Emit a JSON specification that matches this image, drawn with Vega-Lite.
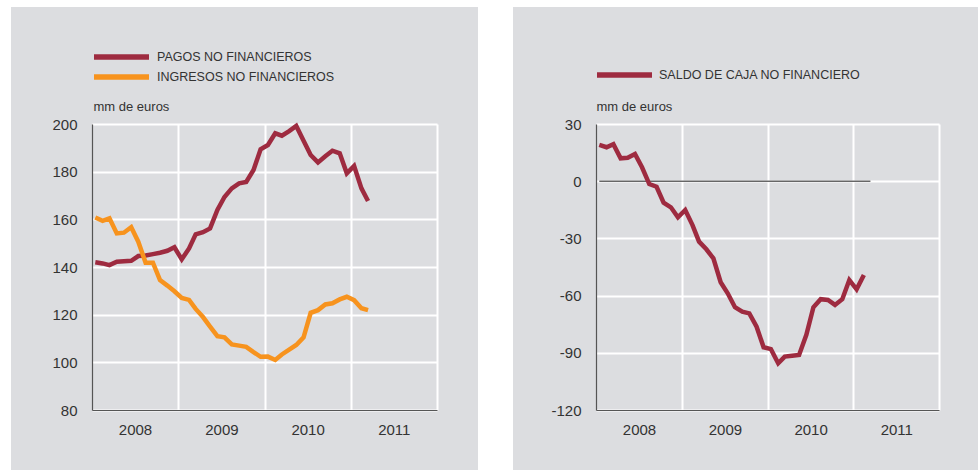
{
  "$schema": "https://vega.github.io/schema/vega-lite/v6.json",
  "background": "#ffffff",
  "padding": {"left": 11, "top": 7, "right": 0, "bottom": 0},
  "autosize": {"type": "pad"},
  "spacing": 35,
  "bounds": "flush",
  "config": {
    "view": {"fill": "#dcdde0", "stroke": null},
    "font": "Liberation Sans",
    "axis": {
      "ticks": false,
      "gridColor": "#ffffff",
      "gridWidth": 2,
      "domainColor": "#555555",
      "domainWidth": 1.2,
      "labelFontSize": 15,
      "labelColor": "#333333",
      "labelFont": "Liberation Sans",
      "titleFont": "Liberation Sans",
      "titleFontWeight": "normal",
      "titleColor": "#333333",
      "titleFontSize": 13
    },
    "legend": {
      "orient": "none",
      "title": null,
      "symbolType": "M-5,0H5",
      "symbolSize": 121,
      "symbolStrokeWidth": 5.5,
      "labelFontSize": 12.5,
      "labelColor": "#333333",
      "labelFont": "Liberation Sans",
      "labelLimit": 0,
      "rowPadding": -4,
      "padding": 0
    }
  },
  "resolve": {"scale": {"color": "independent"}, "legend": {"color": "independent"}},
  "datasets": {
    "flujos": [
      {"fecha": "2008-01-15", "serie": "PAGOS NO FINANCIEROS", "valor": 142.0},
      {"fecha": "2008-02-15", "serie": "PAGOS NO FINANCIEROS", "valor": 141.5},
      {"fecha": "2008-03-15", "serie": "PAGOS NO FINANCIEROS", "valor": 140.8},
      {"fecha": "2008-04-15", "serie": "PAGOS NO FINANCIEROS", "valor": 142.2},
      {"fecha": "2008-05-15", "serie": "PAGOS NO FINANCIEROS", "valor": 142.4},
      {"fecha": "2008-06-15", "serie": "PAGOS NO FINANCIEROS", "valor": 142.6},
      {"fecha": "2008-07-15", "serie": "PAGOS NO FINANCIEROS", "valor": 144.6},
      {"fecha": "2008-08-15", "serie": "PAGOS NO FINANCIEROS", "valor": 144.8},
      {"fecha": "2008-09-15", "serie": "PAGOS NO FINANCIEROS", "valor": 145.4},
      {"fecha": "2008-10-15", "serie": "PAGOS NO FINANCIEROS", "valor": 146.0},
      {"fecha": "2008-11-15", "serie": "PAGOS NO FINANCIEROS", "valor": 146.8},
      {"fecha": "2008-12-15", "serie": "PAGOS NO FINANCIEROS", "valor": 148.3},
      {"fecha": "2009-01-15", "serie": "PAGOS NO FINANCIEROS", "valor": 143.2},
      {"fecha": "2009-02-15", "serie": "PAGOS NO FINANCIEROS", "valor": 147.8},
      {"fecha": "2009-03-15", "serie": "PAGOS NO FINANCIEROS", "valor": 153.7},
      {"fecha": "2009-04-15", "serie": "PAGOS NO FINANCIEROS", "valor": 154.6},
      {"fecha": "2009-05-15", "serie": "PAGOS NO FINANCIEROS", "valor": 156.2},
      {"fecha": "2009-06-15", "serie": "PAGOS NO FINANCIEROS", "valor": 163.9},
      {"fecha": "2009-07-15", "serie": "PAGOS NO FINANCIEROS", "valor": 169.4},
      {"fecha": "2009-08-15", "serie": "PAGOS NO FINANCIEROS", "valor": 173.0},
      {"fecha": "2009-09-15", "serie": "PAGOS NO FINANCIEROS", "valor": 175.1},
      {"fecha": "2009-10-15", "serie": "PAGOS NO FINANCIEROS", "valor": 175.7},
      {"fecha": "2009-11-15", "serie": "PAGOS NO FINANCIEROS", "valor": 180.7},
      {"fecha": "2009-12-15", "serie": "PAGOS NO FINANCIEROS", "valor": 189.4},
      {"fecha": "2010-01-15", "serie": "PAGOS NO FINANCIEROS", "valor": 191.2},
      {"fecha": "2010-02-15", "serie": "PAGOS NO FINANCIEROS", "valor": 196.1},
      {"fecha": "2010-03-15", "serie": "PAGOS NO FINANCIEROS", "valor": 195.1},
      {"fecha": "2010-04-15", "serie": "PAGOS NO FINANCIEROS", "valor": 197.0},
      {"fecha": "2010-05-15", "serie": "PAGOS NO FINANCIEROS", "valor": 199.2},
      {"fecha": "2010-06-15", "serie": "PAGOS NO FINANCIEROS", "valor": 193.0},
      {"fecha": "2010-07-15", "serie": "PAGOS NO FINANCIEROS", "valor": 187.0},
      {"fecha": "2010-08-15", "serie": "PAGOS NO FINANCIEROS", "valor": 183.9},
      {"fecha": "2010-09-15", "serie": "PAGOS NO FINANCIEROS", "valor": 186.5},
      {"fecha": "2010-10-15", "serie": "PAGOS NO FINANCIEROS", "valor": 188.8},
      {"fecha": "2010-11-15", "serie": "PAGOS NO FINANCIEROS", "valor": 187.7},
      {"fecha": "2010-12-15", "serie": "PAGOS NO FINANCIEROS", "valor": 179.3},
      {"fecha": "2011-01-15", "serie": "PAGOS NO FINANCIEROS", "valor": 182.4},
      {"fecha": "2011-02-15", "serie": "PAGOS NO FINANCIEROS", "valor": 173.0},
      {"fecha": "2011-03-15", "serie": "PAGOS NO FINANCIEROS", "valor": 167.7},
      {"fecha": "2008-01-15", "serie": "INGRESOS NO FINANCIEROS", "valor": 160.8},
      {"fecha": "2008-02-15", "serie": "INGRESOS NO FINANCIEROS", "valor": 159.4},
      {"fecha": "2008-03-15", "serie": "INGRESOS NO FINANCIEROS", "valor": 160.4},
      {"fecha": "2008-04-15", "serie": "INGRESOS NO FINANCIEROS", "valor": 154.1},
      {"fecha": "2008-05-15", "serie": "INGRESOS NO FINANCIEROS", "valor": 154.4},
      {"fecha": "2008-06-15", "serie": "INGRESOS NO FINANCIEROS", "valor": 156.7},
      {"fecha": "2008-07-15", "serie": "INGRESOS NO FINANCIEROS", "valor": 150.6},
      {"fecha": "2008-08-15", "serie": "INGRESOS NO FINANCIEROS", "valor": 141.8},
      {"fecha": "2008-09-15", "serie": "INGRESOS NO FINANCIEROS", "valor": 141.8},
      {"fecha": "2008-10-15", "serie": "INGRESOS NO FINANCIEROS", "valor": 134.5},
      {"fecha": "2008-11-15", "serie": "INGRESOS NO FINANCIEROS", "valor": 132.2},
      {"fecha": "2008-12-15", "serie": "INGRESOS NO FINANCIEROS", "valor": 129.8},
      {"fecha": "2009-01-15", "serie": "INGRESOS NO FINANCIEROS", "valor": 127.0},
      {"fecha": "2009-02-15", "serie": "INGRESOS NO FINANCIEROS", "valor": 126.2},
      {"fecha": "2009-03-15", "serie": "INGRESOS NO FINANCIEROS", "valor": 122.4},
      {"fecha": "2009-04-15", "serie": "INGRESOS NO FINANCIEROS", "valor": 119.0},
      {"fecha": "2009-05-15", "serie": "INGRESOS NO FINANCIEROS", "valor": 115.0},
      {"fecha": "2009-06-15", "serie": "INGRESOS NO FINANCIEROS", "valor": 111.0},
      {"fecha": "2009-07-15", "serie": "INGRESOS NO FINANCIEROS", "valor": 110.5},
      {"fecha": "2009-08-15", "serie": "INGRESOS NO FINANCIEROS", "valor": 107.5},
      {"fecha": "2009-09-15", "serie": "INGRESOS NO FINANCIEROS", "valor": 107.0},
      {"fecha": "2009-10-15", "serie": "INGRESOS NO FINANCIEROS", "valor": 106.5},
      {"fecha": "2009-11-15", "serie": "INGRESOS NO FINANCIEROS", "valor": 104.3},
      {"fecha": "2009-12-15", "serie": "INGRESOS NO FINANCIEROS", "valor": 102.3},
      {"fecha": "2010-01-15", "serie": "INGRESOS NO FINANCIEROS", "valor": 102.4},
      {"fecha": "2010-02-15", "serie": "INGRESOS NO FINANCIEROS", "valor": 101.0},
      {"fecha": "2010-03-15", "serie": "INGRESOS NO FINANCIEROS", "valor": 103.3},
      {"fecha": "2010-04-15", "serie": "INGRESOS NO FINANCIEROS", "valor": 105.3},
      {"fecha": "2010-05-15", "serie": "INGRESOS NO FINANCIEROS", "valor": 107.3},
      {"fecha": "2010-06-15", "serie": "INGRESOS NO FINANCIEROS", "valor": 110.5},
      {"fecha": "2010-07-15", "serie": "INGRESOS NO FINANCIEROS", "valor": 120.8},
      {"fecha": "2010-08-15", "serie": "INGRESOS NO FINANCIEROS", "valor": 121.9},
      {"fecha": "2010-09-15", "serie": "INGRESOS NO FINANCIEROS", "valor": 124.3},
      {"fecha": "2010-10-15", "serie": "INGRESOS NO FINANCIEROS", "valor": 124.8},
      {"fecha": "2010-11-15", "serie": "INGRESOS NO FINANCIEROS", "valor": 126.4},
      {"fecha": "2010-12-15", "serie": "INGRESOS NO FINANCIEROS", "valor": 127.5},
      {"fecha": "2011-01-15", "serie": "INGRESOS NO FINANCIEROS", "valor": 126.1},
      {"fecha": "2011-02-15", "serie": "INGRESOS NO FINANCIEROS", "valor": 122.7},
      {"fecha": "2011-03-15", "serie": "INGRESOS NO FINANCIEROS", "valor": 121.9}
    ],
    "saldo": [
      {"fecha": "2008-01-15", "serie": "SALDO DE CAJA NO FINANCIERO", "valor": 19.0},
      {"fecha": "2008-02-15", "serie": "SALDO DE CAJA NO FINANCIERO", "valor": 17.8},
      {"fecha": "2008-03-15", "serie": "SALDO DE CAJA NO FINANCIERO", "valor": 19.4},
      {"fecha": "2008-04-15", "serie": "SALDO DE CAJA NO FINANCIERO", "valor": 12.0},
      {"fecha": "2008-05-15", "serie": "SALDO DE CAJA NO FINANCIERO", "valor": 12.3},
      {"fecha": "2008-06-15", "serie": "SALDO DE CAJA NO FINANCIERO", "valor": 14.3},
      {"fecha": "2008-07-15", "serie": "SALDO DE CAJA NO FINANCIERO", "valor": 7.3},
      {"fecha": "2008-08-15", "serie": "SALDO DE CAJA NO FINANCIERO", "valor": -1.5},
      {"fecha": "2008-09-15", "serie": "SALDO DE CAJA NO FINANCIERO", "valor": -2.9},
      {"fecha": "2008-10-15", "serie": "SALDO DE CAJA NO FINANCIERO", "valor": -11.3},
      {"fecha": "2008-11-15", "serie": "SALDO DE CAJA NO FINANCIERO", "valor": -13.7},
      {"fecha": "2008-12-15", "serie": "SALDO DE CAJA NO FINANCIERO", "valor": -18.9},
      {"fecha": "2009-01-15", "serie": "SALDO DE CAJA NO FINANCIERO", "valor": -15.1},
      {"fecha": "2009-02-15", "serie": "SALDO DE CAJA NO FINANCIERO", "valor": -23.0},
      {"fecha": "2009-03-15", "serie": "SALDO DE CAJA NO FINANCIERO", "valor": -31.7},
      {"fecha": "2009-04-15", "serie": "SALDO DE CAJA NO FINANCIERO", "valor": -35.7},
      {"fecha": "2009-05-15", "serie": "SALDO DE CAJA NO FINANCIERO", "valor": -40.5},
      {"fecha": "2009-06-15", "serie": "SALDO DE CAJA NO FINANCIERO", "valor": -53.0},
      {"fecha": "2009-07-15", "serie": "SALDO DE CAJA NO FINANCIERO", "valor": -58.8},
      {"fecha": "2009-08-15", "serie": "SALDO DE CAJA NO FINANCIERO", "valor": -66.1},
      {"fecha": "2009-09-15", "serie": "SALDO DE CAJA NO FINANCIERO", "valor": -68.4},
      {"fecha": "2009-10-15", "serie": "SALDO DE CAJA NO FINANCIERO", "valor": -69.3},
      {"fecha": "2009-11-15", "serie": "SALDO DE CAJA NO FINANCIERO", "valor": -76.3},
      {"fecha": "2009-12-15", "serie": "SALDO DE CAJA NO FINANCIERO", "valor": -87.1},
      {"fecha": "2010-01-15", "serie": "SALDO DE CAJA NO FINANCIERO", "valor": -88.1},
      {"fecha": "2010-02-15", "serie": "SALDO DE CAJA NO FINANCIERO", "valor": -95.5},
      {"fecha": "2010-03-15", "serie": "SALDO DE CAJA NO FINANCIERO", "valor": -92.0},
      {"fecha": "2010-04-15", "serie": "SALDO DE CAJA NO FINANCIERO", "valor": -91.5},
      {"fecha": "2010-05-15", "serie": "SALDO DE CAJA NO FINANCIERO", "valor": -91.1},
      {"fecha": "2010-06-15", "serie": "SALDO DE CAJA NO FINANCIERO", "valor": -80.6},
      {"fecha": "2010-07-15", "serie": "SALDO DE CAJA NO FINANCIERO", "valor": -66.1},
      {"fecha": "2010-08-15", "serie": "SALDO DE CAJA NO FINANCIERO", "valor": -61.9},
      {"fecha": "2010-09-15", "serie": "SALDO DE CAJA NO FINANCIERO", "valor": -62.3},
      {"fecha": "2010-10-15", "serie": "SALDO DE CAJA NO FINANCIERO", "valor": -64.9},
      {"fecha": "2010-11-15", "serie": "SALDO DE CAJA NO FINANCIERO", "valor": -61.9},
      {"fecha": "2010-12-15", "serie": "SALDO DE CAJA NO FINANCIERO", "valor": -51.8},
      {"fecha": "2011-01-15", "serie": "SALDO DE CAJA NO FINANCIERO", "valor": -56.7},
      {"fecha": "2011-02-15", "serie": "SALDO DE CAJA NO FINANCIERO", "valor": -49.2}
    ]
  },
  "hconcat": [
    {
      "width": 467,
      "height": 463,
      "data": {"name": "flujos"},
      "resolve": {"axis": {"x": "independent"}},
      "layer": [
        {
          "transform": [{"filter": "datum.serie === 'PAGOS NO FINANCIEROS'"}],
          "mark": {"type": "line", "strokeWidth": 4.5},
          "encoding": {
            "x": {
              "field": "fecha",
              "type": "temporal",
              "scale": {
                "type": "utc",
                "domain": [{"year": 2008, "month": 1, "date": 1, "utc": true}, {"year": 2012, "month": 1, "date": 1, "utc": true}],
                "range": [81, 426],
                "nice": false
              },
              "axis": {
                "orient": "top",
                "offset": -117,
                "title": null,
                "grid": true,
                "labels": false,
                "domain": false,
                "values": [
                  {"year": 2009, "month": 1, "date": 1, "utc": true},
                  {"year": 2010, "month": 1, "date": 1, "utc": true},
                  {"year": 2011, "month": 1, "date": 1, "utc": true},
                  {"year": 2012, "month": 1, "date": 1, "utc": true}
                ]
              }
            },
            "y": {
              "field": "valor",
              "type": "quantitative",
              "scale": {"domain": [80, 200], "range": [403, 117], "nice": false, "zero": false},
              "axis": {
                "orient": "left",
                "offset": -81,
                "grid": true,
                "values": [80, 100, 120, 140, 160, 180, 200],
                "labelExpr": "'' + datum.value",
                "labelPadding": 15,
                "title": "mm de euros",
                "titleAngle": 0,
                "titleAlign": "left",
                "titleBaseline": "middle",
                "titleAnchor": null,
                "titleX": 1,
                "titleY": 99
              }
            },
            "color": {
              "field": "serie",
              "type": "nominal",
              "scale": {"domain": ["PAGOS NO FINANCIEROS", "INGRESOS NO FINANCIEROS"], "range": ["#9e2b40", "#f7931e"]},
              "legend": {"legendX": 102, "legendY": 41.5, "labelOffset": 27}
            }
          }
        },
        {
          "transform": [{"filter": "datum.serie === 'INGRESOS NO FINANCIEROS'"}],
          "mark": {"type": "line", "strokeWidth": 4.5},
          "encoding": {
            "x": {
              "field": "fecha",
              "type": "temporal",
              "axis": {
                "orient": "bottom",
                "offset": -60,
                "title": null,
                "grid": false,
                "values": [
                  {"year": 2008, "month": 1, "date": 1, "utc": true},
                  {"year": 2009, "month": 1, "date": 1, "utc": true},
                  {"year": 2010, "month": 1, "date": 1, "utc": true},
                  {"year": 2011, "month": 1, "date": 1, "utc": true},
                  {"year": 2012, "month": 1, "date": 1, "utc": true}
                ],
                "labelExpr": "utcyear(datum.value) < 2012 ? utcFormat(datum.value, '%Y') : ''",
                "labelOffset": 43,
                "labelFlush": false,
                "labelOverlap": false,
                "labelBound": false,
                "labelPadding": 12
              }
            },
            "y": {
              "field": "valor",
              "type": "quantitative",
              "axis": {
                "orient": "left",
                "offset": -81,
                "grid": true,
                "values": [80, 100, 120, 140, 160, 180, 200],
                "labelExpr": "'' + datum.value",
                "labelPadding": 15,
                "title": "mm de euros",
                "titleAngle": 0,
                "titleAlign": "left",
                "titleBaseline": "middle",
                "titleAnchor": null,
                "titleX": 1,
                "titleY": 99
              }
            },
            "color": {
              "field": "serie",
              "type": "nominal",
              "legend": {"legendX": 102, "legendY": 41.5, "labelOffset": 27}
            }
          }
        }
      ]
    },
    {
      "width": 465,
      "height": 463,
      "resolve": {"axis": {"x": "independent"}},
      "layer": [
        {
          "data": {"values": [{}]},
          "mark": {"type": "rule", "color": "#222222", "strokeWidth": 1},
          "encoding": {
            "x": {
              "datum": {"year": 2008, "month": 1, "date": 15, "utc": true},
              "type": "temporal",
              "scale": {
                "type": "utc",
                "domain": [{"year": 2008, "month": 1, "date": 1, "utc": true}, {"year": 2012, "month": 1, "date": 1, "utc": true}],
                "range": [83, 426],
                "nice": false
              },
              "axis": {
                "orient": "top",
                "offset": -117,
                "title": null,
                "grid": true,
                "labels": false,
                "domain": false,
                "values": [
                  {"year": 2009, "month": 1, "date": 1, "utc": true},
                  {"year": 2010, "month": 1, "date": 1, "utc": true},
                  {"year": 2011, "month": 1, "date": 1, "utc": true},
                  {"year": 2012, "month": 1, "date": 1, "utc": true}
                ]
              }
            },
            "x2": {"datum": {"year": 2011, "month": 3, "date": 15, "utc": true}},
            "y": {
              "datum": 0,
              "type": "quantitative",
              "axis": {
                "orient": "left",
                "offset": -83,
                "grid": true,
                "values": [-120, -90, -60, -30, 0, 30],
                "labelExpr": "'' + datum.value",
                "labelPadding": 15,
                "title": "mm de euros",
                "titleAngle": 0,
                "titleAlign": "left",
                "titleBaseline": "middle",
                "titleAnchor": null,
                "titleX": 0,
                "titleY": 99
              }
            }
          }
        },
        {
          "data": {"name": "saldo"},
          "mark": {"type": "line", "strokeWidth": 4.5},
          "encoding": {
            "x": {
              "field": "fecha",
              "type": "temporal",
              "axis": {
                "orient": "bottom",
                "offset": -60,
                "title": null,
                "grid": false,
                "values": [
                  {"year": 2008, "month": 1, "date": 1, "utc": true},
                  {"year": 2009, "month": 1, "date": 1, "utc": true},
                  {"year": 2010, "month": 1, "date": 1, "utc": true},
                  {"year": 2011, "month": 1, "date": 1, "utc": true},
                  {"year": 2012, "month": 1, "date": 1, "utc": true}
                ],
                "labelExpr": "utcyear(datum.value) < 2012 ? utcFormat(datum.value, '%Y') : ''",
                "labelOffset": 43,
                "labelFlush": false,
                "labelOverlap": false,
                "labelBound": false,
                "labelPadding": 12
              }
            },
            "y": {
              "field": "valor",
              "type": "quantitative",
              "scale": {"domain": [-120, 30], "range": [403, 117], "nice": false, "zero": false},
              "axis": {
                "orient": "left",
                "offset": -83,
                "grid": true,
                "values": [-120, -90, -60, -30, 0, 30],
                "labelExpr": "'' + datum.value",
                "labelPadding": 15,
                "title": "mm de euros",
                "titleAngle": 0,
                "titleAlign": "left",
                "titleBaseline": "middle",
                "titleAnchor": null,
                "titleX": 0,
                "titleY": 99
              }
            },
            "color": {
              "field": "serie",
              "type": "nominal",
              "scale": {"domain": ["SALDO DE CAJA NO FINANCIERO"], "range": ["#9e2b40"]},
              "legend": {"legendX": 103, "legendY": 59.5, "labelOffset": 26}
            }
          }
        }
      ]
    }
  ]
}
